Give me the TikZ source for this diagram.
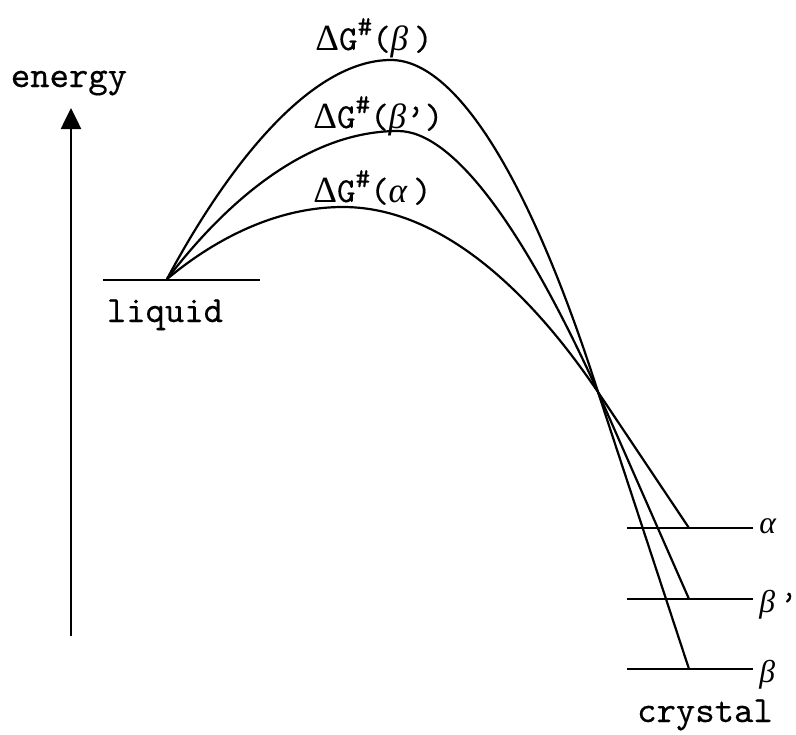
\documentclass[tikz,border=0pt]{standalone}
\usepackage{fontspec}
\newfontfamily\monof[FakeBold=0.4]{lmmono10-regular.otf}
\newfontfamily\grkf{Liberation Serif}
\usetikzlibrary{arrows.meta}
\newcommand{\gb}{{\grkf\itshape β}}
\newcommand{\ga}{{\grkf\itshape α}}
\newcommand{\gD}{{\grkf\fontsize{21}{24}\selectfont Δ}}
\newcommand{\hashsup}{\raisebox{0.42em}{\fontsize{16}{16}\selectfont\#}}
\begin{document}
\begin{tikzpicture}[x=0.02cm,y=-0.02cm,
  ln/.style={line width=1.25pt},
  txt/.style={font=\monof\fontsize{21}{24}\selectfont, inner sep=0pt},
  lab/.style={font=\monof\fontsize{20}{22}\selectfont, inner sep=0pt, anchor=base west},
  gr/.style={font=\fontsize{18}{20}\selectfont, inner sep=0pt, anchor=base west}]
\useasboundingbox (0,0) rectangle (796,735);
% energy axis
\coordinate (abot) at (71,636);
\coordinate (atop) at (71,108);
\draw[ln,-{Triangle[width=11.5pt,length=12pt]}] (abot) -- (atop);
\node[txt,anchor=base] (energy) at (69,87) {energy};
% liquid level
\coordinate (liqL) at (103,280);
\coordinate (liqR) at (260,280);
\coordinate (start) at (167,279);
\draw[ln] (liqL) -- (liqR);
\node[txt,anchor=base] (liquid) at (165,322) {liquid};
% crystal levels
\coordinate (aL) at (627,528); \coordinate (aR) at (753,528);
\coordinate (bpL) at (627,599); \coordinate (bpR) at (753,599);
\coordinate (bL) at (627,669); \coordinate (bR) at (753,669);
\draw[ln] (aL) -- (aR);
\draw[ln] (bpL) -- (bpR);
\draw[ln] (bL) -- (bR);
% peaks, crossing and ends
\coordinate (pkB) at (391,60);
\coordinate (pkBp) at (398,131);
\coordinate (pkA) at (343,207);
\coordinate (cross) at (598,392);
\coordinate (endA) at (689,528);
\coordinate (endBp) at (689,599);
\coordinate (endB) at (689,669);
% curves
\draw[ln] (start) .. controls (227,167) and (310,60) .. (pkB)
  .. controls (457,60) and (531,182) .. (cross) -- (endB);
\draw[ln] (start) parabola[bend at end] (pkBp)
  .. controls (453,131) and (523,227) .. (cross) -- (endBp);
\draw[ln] (start) parabola bend (pkA) (cross) -- (endA);
% barrier labels
\node[lab] (dgb) at (315,50) {\gD G\hashsup(\gb\,)};
\node[lab] (dgbp) at (313,128) {\gD G\hashsup(\gb’)};
\node[lab] (dga) at (313,202) {\gD G\hashsup(\ga\,)};
% level labels
\node[gr] (la) at (759,533) {\ga};
\node[gr] (lbp) at (759,612) {\gb\,{\monof ’}};
\node[gr] (lb) at (759,682) {\gb};
\node[txt,anchor=base] (crystal) at (705,722) {crystal};
\end{tikzpicture}
\end{document}
